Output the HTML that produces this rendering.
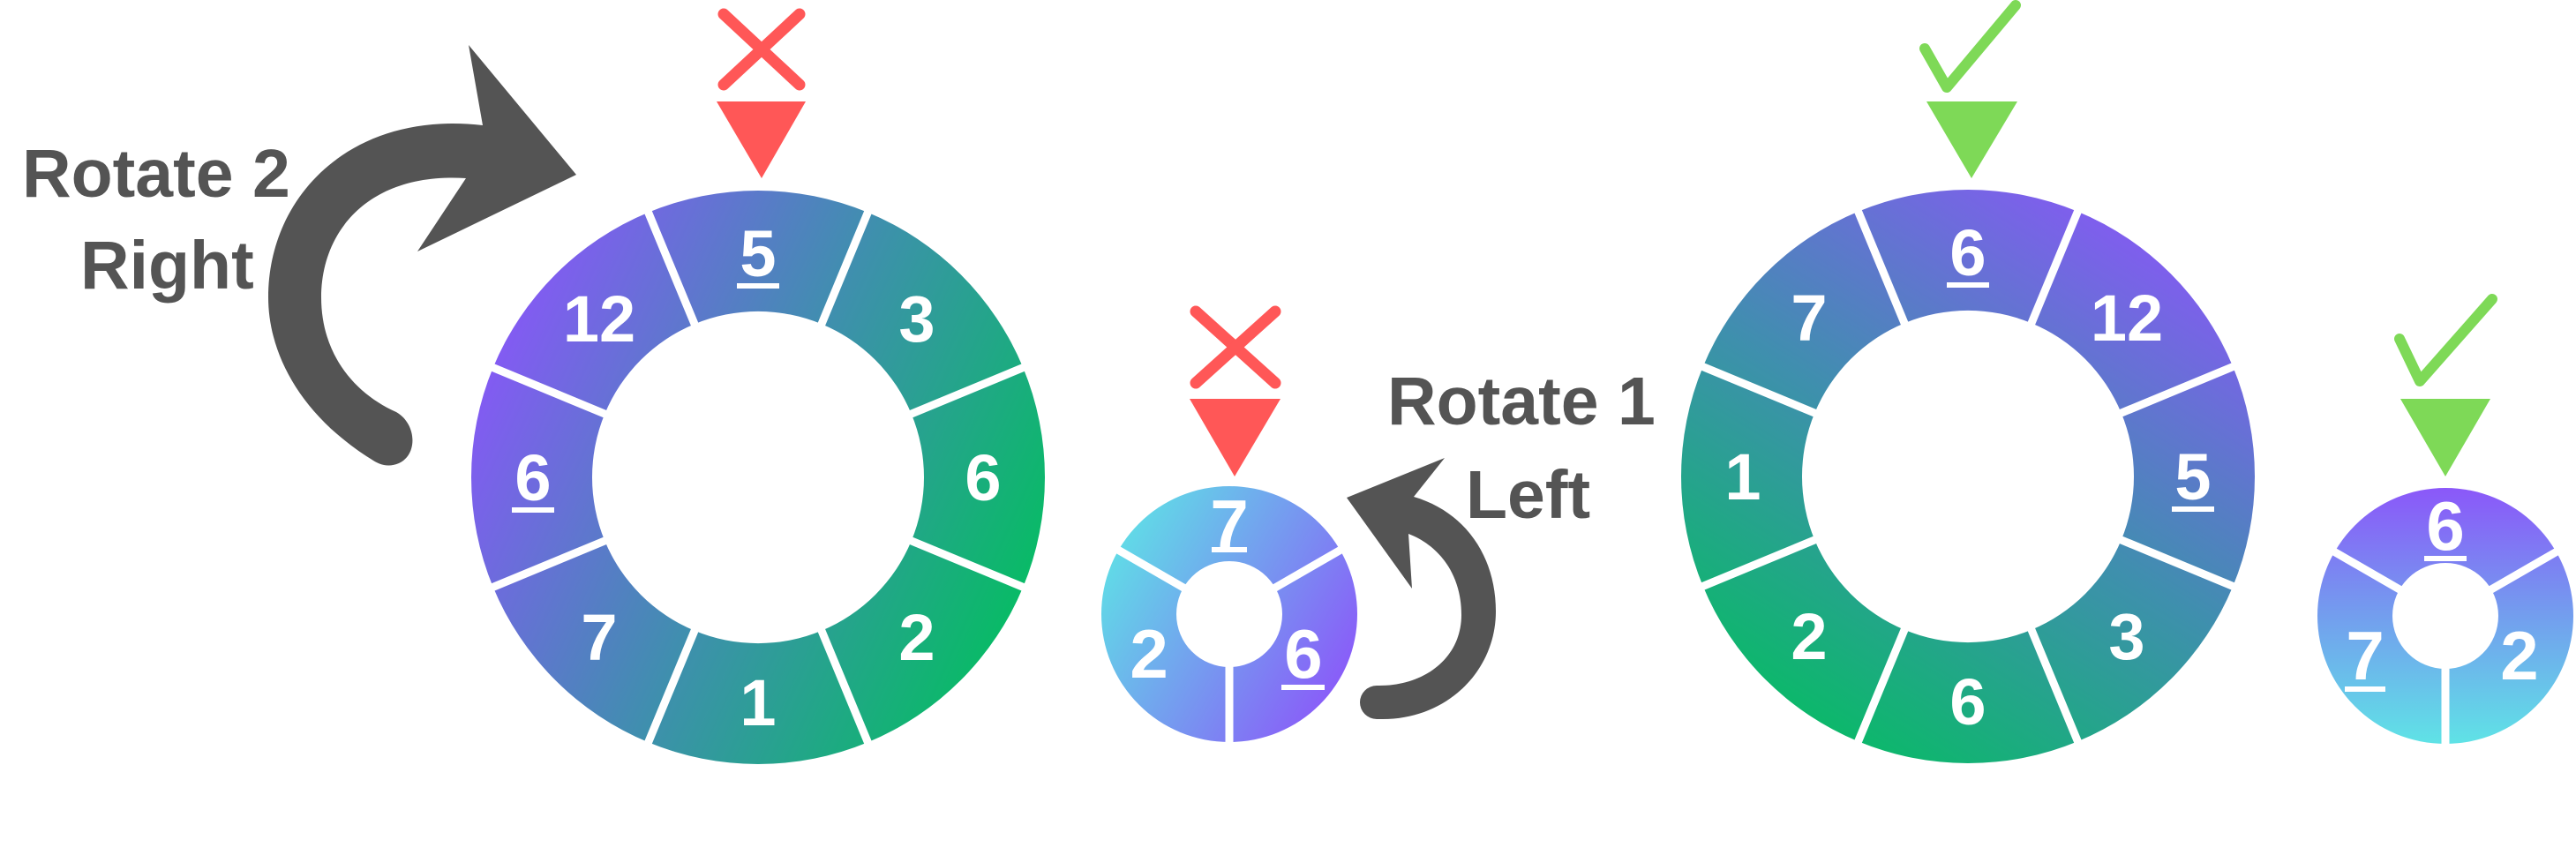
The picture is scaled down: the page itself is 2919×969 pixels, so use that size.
<!DOCTYPE html>
<html><head><meta charset="utf-8"><style>
html,body{margin:0;padding:0;background:#fff;}
svg{display:block;}
.d{font-family:"Liberation Sans",sans-serif;font-weight:bold;fill:#fff;text-anchor:middle;}
.t{font-family:"Liberation Sans",sans-serif;font-weight:bold;fill:#545454;font-size:77px;}
</style></head><body>
<svg width="2919" height="969" viewBox="0 0 2919 969" xmlns="http://www.w3.org/2000/svg">
<defs>
<linearGradient id="g1" gradientUnits="userSpaceOnUse" x1="-330" y1="-150" x2="330" y2="150">
<stop offset="0" stop-color="#8a55fa"/><stop offset="0.5" stop-color="#3f8fae"/><stop offset="1" stop-color="#03bf5f"/></linearGradient>
<linearGradient id="g3" gradientUnits="userSpaceOnUse" x1="200" y1="-330" x2="-200" y2="330">
<stop offset="0" stop-color="#8b55f9"/><stop offset="0.5" stop-color="#3f8fae"/><stop offset="1" stop-color="#03bf5f"/></linearGradient>
<linearGradient id="g2" gradientUnits="userSpaceOnUse" x1="-140" y1="-80" x2="140" y2="80">
<stop offset="0" stop-color="#5fe0e6"/><stop offset="1" stop-color="#8b57f9"/></linearGradient>
<linearGradient id="g4" gradientUnits="userSpaceOnUse" x1="0" y1="-146" x2="0" y2="146">
<stop offset="0" stop-color="#8b57f9"/><stop offset="0.45" stop-color="#7597ef"/><stop offset="1" stop-color="#5fe3e6"/></linearGradient>
</defs>

<!-- Arrow 1 -->
<path fill="#545454" d="M 547 142 L 531 51 L 653 198 L 473 285 L 528 202 C 420 195, 364 260, 364 337 C 364 400, 400 445, 449 467 C 472 480, 474 515, 452 525 C 440 530, 430 527, 420 520 C 340 470, 304 400, 304 337 C 304 220, 400 125, 547 142 Z"/>
<text class="t" x="25" y="223">Rotate 2</text>
<text class="t" x="91" y="327">Right</text>

<!-- Arrow 2 -->
<path fill="#545454" d="M 1526 564 L 1637 519 L 1602 563 C 1660 580, 1695 630, 1695 693 C 1695 760, 1640 815, 1567 815 L 1560 815 A 19 19 0 0 1 1560 777 L 1563 777 C 1615 777, 1656 745, 1656 697 C 1656 650, 1630 618, 1596 605 L 1600 667 Z"/>
<text class="t" x="1572" y="481">Rotate 1</text>
<text class="t" x="1661" y="587">Left</text>

<!-- Red indicators -->
<polygon fill="#ff5757" points="812,115 913,115 863,202"/>
<g stroke="#ff5757" stroke-width="13" stroke-linecap="round"><line x1="820" y1="16" x2="906" y2="96"/><line x1="906" y1="16" x2="820" y2="96"/></g>
<polygon fill="#ff5757" points="1348,452 1451,452 1399,540"/>
<g stroke="#ff5757" stroke-width="13" stroke-linecap="round"><line x1="1355" y1="353" x2="1445" y2="434"/><line x1="1445" y1="353" x2="1355" y2="434"/></g>

<!-- Green indicators -->
<polygon fill="#7ed957" points="2183,115 2286,115 2234,202"/>
<polyline fill="none" stroke="#7ed957" stroke-width="12" stroke-linecap="round" stroke-linejoin="round" points="2181,55 2206,99 2284,6"/>
<polygon fill="#7ed957" points="2720,452 2822,452 2771,540"/>
<polyline fill="none" stroke="#7ed957" stroke-width="12" stroke-linecap="round" stroke-linejoin="round" points="2719,384 2742,432 2824,339"/>

<!-- Ring 1 -->
<g transform="translate(859,541)">
<path fill="url(#g1)" fill-rule="evenodd" d="M -325 0 A 325 325 0 1 0 325 0 A 325 325 0 1 0 -325 0 Z M -188 0 A 188 188 0 1 1 188 0 A 188 188 0 1 1 -188 0 Z"/>
<g stroke="#fff" stroke-width="9">
<line x1="0" y1="-180" x2="0" y2="-335" transform="rotate(22.5)"/><line x1="0" y1="-180" x2="0" y2="-335" transform="rotate(67.5)"/>
<line x1="0" y1="-180" x2="0" y2="-335" transform="rotate(112.5)"/><line x1="0" y1="-180" x2="0" y2="-335" transform="rotate(157.5)"/>
<line x1="0" y1="-180" x2="0" y2="-335" transform="rotate(202.5)"/><line x1="0" y1="-180" x2="0" y2="-335" transform="rotate(247.5)"/>
<line x1="0" y1="-180" x2="0" y2="-335" transform="rotate(292.5)"/><line x1="0" y1="-180" x2="0" y2="-335" transform="rotate(337.5)"/>
</g>
<g class="d" font-size="74">
<text x="0" y="-228">5</text><rect x="-24" y="-220" width="48" height="6" fill="#fff"/>
<text x="180" y="-154">3</text>
<text x="255" y="26">6</text>
<text x="180" y="207">2</text>
<text x="0" y="281">1</text>
<text x="-180" y="207">7</text>
<text x="-255" y="26">6</text><rect x="-279" y="34" width="48" height="6" fill="#fff"/>
<text x="-180" y="-154">12</text>
</g>
</g>

<!-- Ring 3 -->
<g transform="translate(2230,540)">
<path fill="url(#g3)" fill-rule="evenodd" d="M -325 0 A 325 325 0 1 0 325 0 A 325 325 0 1 0 -325 0 Z M -188 0 A 188 188 0 1 1 188 0 A 188 188 0 1 1 -188 0 Z"/>
<g stroke="#fff" stroke-width="9">
<line x1="0" y1="-180" x2="0" y2="-335" transform="rotate(22.5)"/><line x1="0" y1="-180" x2="0" y2="-335" transform="rotate(67.5)"/>
<line x1="0" y1="-180" x2="0" y2="-335" transform="rotate(112.5)"/><line x1="0" y1="-180" x2="0" y2="-335" transform="rotate(157.5)"/>
<line x1="0" y1="-180" x2="0" y2="-335" transform="rotate(202.5)"/><line x1="0" y1="-180" x2="0" y2="-335" transform="rotate(247.5)"/>
<line x1="0" y1="-180" x2="0" y2="-335" transform="rotate(292.5)"/><line x1="0" y1="-180" x2="0" y2="-335" transform="rotate(337.5)"/>
</g>
<g class="d" font-size="74">
<text x="0" y="-228">6</text><rect x="-24" y="-220" width="48" height="6" fill="#fff"/>
<text x="180" y="-154">12</text>
<text x="255" y="26">5</text><rect x="231" y="34" width="48" height="6" fill="#fff"/>
<text x="180" y="207">3</text>
<text x="0" y="281">6</text>
<text x="-180" y="207">2</text>
<text x="-255" y="26">1</text>
<text x="-180" y="-154">7</text>
</g>
</g>

<!-- Ring 2 -->
<g transform="translate(1393,696)">
<path fill="url(#g2)" fill-rule="evenodd" d="M -145 0 A 145 145 0 1 0 145 0 A 145 145 0 1 0 -145 0 Z M -60 0 A 60 60 0 1 1 60 0 A 60 60 0 1 1 -60 0 Z"/>
<g stroke="#fff" stroke-width="9">
<line x1="0" y1="-55" x2="0" y2="-152" transform="rotate(-60)"/><line x1="0" y1="-55" x2="0" y2="-152" transform="rotate(60)"/><line x1="0" y1="-55" x2="0" y2="-152" transform="rotate(180)"/>
</g>
<g class="d" font-size="78">
<text x="0" y="-75">7</text><rect x="-20" y="-76" width="40" height="6" fill="#fff"/>
<text x="84" y="72">6</text><rect x="59" y="80" width="49" height="6" fill="#fff"/>
<text x="-91" y="72">2</text>
</g>
</g>

<!-- Ring 4 -->
<g transform="translate(2771,698)">
<path fill="url(#g4)" fill-rule="evenodd" d="M -145 0 A 145 145 0 1 0 145 0 A 145 145 0 1 0 -145 0 Z M -60 0 A 60 60 0 1 1 60 0 A 60 60 0 1 1 -60 0 Z"/>
<g stroke="#fff" stroke-width="9">
<line x1="0" y1="-55" x2="0" y2="-152" transform="rotate(-60)"/><line x1="0" y1="-55" x2="0" y2="-152" transform="rotate(60)"/><line x1="0" y1="-55" x2="0" y2="-152" transform="rotate(180)"/>
</g>
<g class="d" font-size="78">
<text x="0" y="-75">6</text><rect x="-24" y="-68" width="48" height="6" fill="#fff"/>
<text x="84" y="72">2</text>
<text x="-91" y="72">7</text><rect x="-114" y="80" width="46" height="6" fill="#fff"/>
</g>
</g>
</svg>
</body></html>
